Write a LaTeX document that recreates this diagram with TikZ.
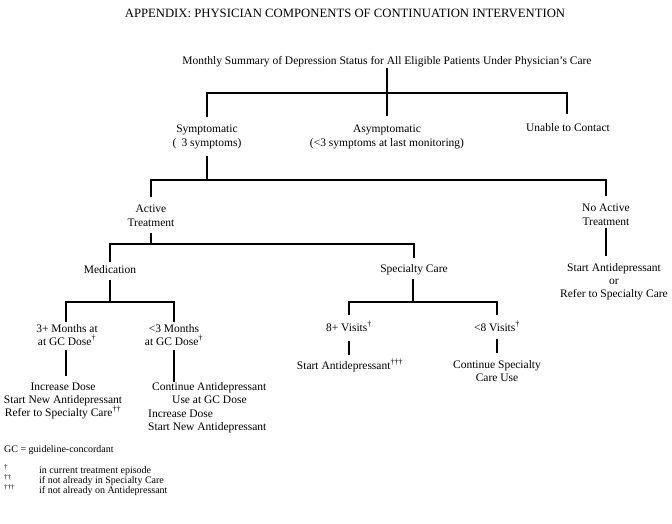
\documentclass[tikz,border=0pt]{standalone}
\usepackage{fontspec}
\setmainfont{Liberation Serif}
\begin{document}
\begin{tikzpicture}[x=1pt,y=-1pt,
  lbl/.style={inner sep=0pt, anchor=base, align=center, font=\fontsize{11.5}{14}\selectfont},
  foot/.style={inner sep=0pt, anchor=base west, font=\fontsize{10}{12}\selectfont},
  conn/.style={draw=black, line width=1.1pt}]
\useasboundingbox (0,0) rectangle (672,523);
\fill[white] (0,0) rectangle (672,523);
% texts (multi-line nodes: base = baseline of the last line)
\node[lbl, font=\fontsize{12.7}{14}\selectfont] (title) at (345,17) {APPENDIX: PHYSICIAN COMPONENTS OF CONTINUATION INTERVENTION};
\node[lbl] (root) at (387,64) {Monthly Summary of Depression Status for All Eligible Patients Under Physician's Care};
\node[lbl] (symp) at (207,146) {Symptomatic\\(\hspace{0.45em}3 symptoms)};
\node[lbl] (asymp) at (387,146) {Asymptomatic\\(<3 symptoms at last monitoring)};
\node[lbl] (unable) at (568,131) {Unable to Contact};
\node[lbl] (active) at (151,226) {Active\\Treatment};
\node[lbl] (noactive) at (606,225) {No Active\\Treatment};
\node[lbl] (med) at (110,273) {Medication};
\node[lbl] (spec) at (414,272) {Specialty Care};
\node[lbl, font=\fontsize{11.5}{13}\selectfont] (noact-do) at (614,297) {Start Antidepressant\\or\\Refer to Specialty Care};
\node[lbl, font=\fontsize{11.5}{13}\selectfont] (three) at (67,345) {3+ Months at\\at GC Dose\textsuperscript{\dag}};
\node[lbl, font=\fontsize{11.5}{13}\selectfont] (less3) at (174,345) {<3 Months\\at GC Dose\textsuperscript{\dag}};
\node[lbl] (eight) at (349,331) {8+ Visits\textsuperscript{\dag}};
\node[lbl] (less8) at (497,331) {<8 Visits\textsuperscript{\dag}};
\node[lbl] (eight-do) at (350,369) {Start Antidepressant\textsuperscript{\dag\dag\dag}};
\node[lbl, font=\fontsize{11.5}{13}\selectfont] (less8-do) at (497,381) {Continue Specialty\\Care Use};
\node[lbl, font=\fontsize{11.5}{13}\selectfont] (three-do) at (63,416) {Increase Dose\\Start New Antidepressant\\Refer to Specialty Care\textsuperscript{\dag\dag}};
\node[lbl, anchor=base west, align=left, font=\fontsize{11.5}{13.5}\selectfont] (less3-do) at (148,430.5) {\hspace*{4pt}Continue Antidepressant\\\hspace*{24pt}Use at GC Dose\\Increase Dose\\Start New Antidepressant};
\node[foot] (gc) at (4,452) {GC = guideline-concordant};
\node[foot] (f1s) at (4,473) {\textsuperscript{\dag}};
\node[foot] (f1) at (39,473) {in current treatment episode};
\node[foot] (f2s) at (4,483) {\textsuperscript{\dag\dag}};
\node[foot] (f2) at (39,483) {if not already in Specialty Care};
\node[foot] (f3s) at (4,493) {\textsuperscript{\dag\dag\dag}};
\node[foot] (f3) at (39,493) {if not already on Antidepressant};
% junction coordinates
\coordinate (r0) at (387,68);   \coordinate (j1) at (387,93);  \coordinate (r1) at (387,116);
\coordinate (s0) at (207,117);  \coordinate (u0) at (567,114);
\coordinate (s1) at (207,156);  \coordinate (j2) at (207,180);
\coordinate (a0) at (151,197);  \coordinate (n0) at (606,196);
\coordinate (a1) at (151,233);  \coordinate (j3) at (151,244);
\coordinate (m0) at (110,262);  \coordinate (p0) at (414,258);
\coordinate (n1) at (606,228);  \coordinate (n2) at (606,256);
\coordinate (m1) at (110,280);  \coordinate (j4) at (110,302);
\coordinate (t0) at (66,322);   \coordinate (l0) at (174,322);
\coordinate (p1) at (413,279);  \coordinate (j5) at (413,302);
\coordinate (e0) at (349,315);  \coordinate (v0) at (497,315);
\coordinate (t1) at (66,350);   \coordinate (t2) at (66,376);
\coordinate (l1) at (174,350);  \coordinate (l2) at (174,382);
\coordinate (e1) at (349,341);  \coordinate (e2) at (349,355);
\coordinate (v1) at (497,339);  \coordinate (v2) at (497,353);
% connectors
\draw[conn] (r0) -- (r1);
\draw[conn] (s0) |- (j1) -| (u0);
\draw[conn] (s1) -- (j2);
\draw[conn] (a0) |- (j2) -| (n0);
\draw[conn] (a1) -- (j3);
\draw[conn] (m0) |- (j3) -| (p0);
\draw[conn] (n1) -- (n2);
\draw[conn] (m1) -- (j4);
\draw[conn] (t0) |- (j4) -| (l0);
\draw[conn] (p1) -- (j5);
\draw[conn] (e0) |- (j5) -| (v0);
\draw[conn] (t1) -- (t2);
\draw[conn] (l1) -- (l2);
\draw[conn] (e1) -- (e2);
\draw[conn] (v1) -- (v2);
\end{tikzpicture}
\end{document}
